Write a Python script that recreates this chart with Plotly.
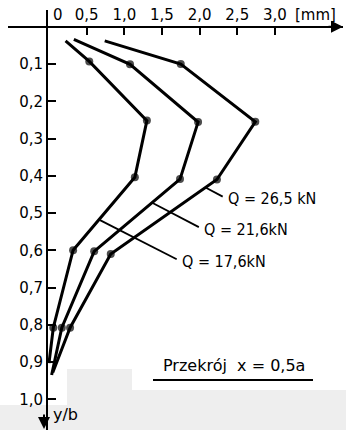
import plotly.graph_objects as go

# ---- data ----
loads = ["Q = 17,6kN", "Q = 21,6kN", "Q = 26,5 kN"]
y_b = {
    "17.6": [0.038, 0.093, 0.252, 0.404, 0.600, 0.808, 0.903],
    "21.6": [0.034, 0.101, 0.256, 0.409, 0.603, 0.808, 0.935],
    "26.5": [0.038, 0.100, 0.255, 0.410, 0.610, 0.808, 0.928],
}
defl = {
    "17.6": [0.22, 0.535, 1.30, 1.14, 0.32, 0.057, 0.0],
    "21.6": [0.33, 1.076, 1.98, 1.74, 0.60, 0.17, 0.035],
    "26.5": [0.74, 1.75, 2.74, 2.23, 0.82, 0.28, 0.05],
}
# leader lines (from curve to label) and label anchor points
leader_x = {"17.6": [0.677, 1.696], "21.6": [1.364, 1.99], "26.5": [2.085, 2.307]}
leader_y = {"17.6": [0.519, 0.624], "21.6": [0.472, 0.538], "26.5": [0.432, 0.456]}
label_pos = {"17.6": (1.74, 0.631), "21.6": (2.03, 0.544), "26.5": (2.35, 0.46)}

x_ticks = [0.5, 1.0, 1.5, 2.0, 2.5, 3.0]
x_ticktext = ["0,5", "1,0", "1,5", "2,0", "2,5", "3,0"]
y_ticks = [0.1, 0.2, 0.3, 0.4, 0.5, 0.6, 0.7, 0.8, 0.9, 1.0]
y_ticktext = ["0,1", "0,2", "0,3", "0,4", "0,5", "0,6", "0,7", "0,8", "0,9", "1,0"]

# ---- layout geometry ----
W, H = 346, 430
X0PX, XS = 49.0, 75.3      # pixel of x=0, px per mm
Y0PX, YS = 26.75, 372.5    # pixel of y=0, px per unit y/b


def dx(px):
    return (px - X0PX) / XS


def dy(py):
    return (py - Y0PX) / YS


fig = go.Figure()

keys = ["17.6", "21.6", "26.5"]
for k in keys:
    n = len(defl[k])
    sizes = [0] + [8] * (n - 2) + [0]
    fig.add_trace(go.Scatter(
        x=defl[k], y=y_b[k], mode="lines+markers",
        line=dict(color="black", width=3),
        marker=dict(color="black", size=sizes, line=dict(width=0)),
        showlegend=False, hoverinfo="skip",
    ))
    fig.add_trace(go.Scatter(
        x=leader_x[k], y=leader_y[k], mode="lines",
        line=dict(color="black", width=1.8),
        showlegend=False, hoverinfo="skip",
    ))

annotations = []
for k, txt in zip(keys, loads):
    lx, ly = label_pos[k]
    annotations.append(dict(x=lx, y=ly, xref="x", yref="y", text=txt, showarrow=False,
                            xanchor="left", yanchor="middle",
                            font=dict(family="DejaVu Sans Condensed", size=16, color="black")))

# axis labels / extra texts
annotations += [
    dict(x=dx(58), y=dy(15), xref="x", yref="y", text="0", showarrow=False,
         xanchor="center", yanchor="middle", font=dict(family="DejaVu Sans", size=15, color="black")),
    dict(x=dx(315), y=dy(15), xref="x", yref="y", text="[mm]", showarrow=False,
         xanchor="center", yanchor="middle", font=dict(family="DejaVu Sans", size=15, color="black")),
    dict(x=dx(51), y=dy(414), xref="x", yref="y", text="y/b", showarrow=False,
         xanchor="left", yanchor="middle", font=dict(family="DejaVu Sans", size=16, color="black")),
    dict(x=dx(161), y=dy(365), xref="x", yref="y", text="Przekrój  x = 0,5a", showarrow=False,
         xanchor="left", yanchor="middle", font=dict(family="DejaVu Sans", size=16, color="black")),
    # axis arrows
    dict(x=dx(343), y=0, xref="x", yref="y", text="", showarrow=True, ax=-16, ay=0,
         arrowhead=2, arrowsize=1.2, arrowwidth=2, arrowcolor="black"),
    dict(x=dx(44), y=dy(429), xref="x", yref="y", text="", showarrow=True, ax=0, ay=-16,
         arrowhead=2, arrowsize=1.2, arrowwidth=2, arrowcolor="black"),
]

shapes = [
    # scanned-paper grey patches at the bottom
    dict(type="rect", xref="paper", yref="paper", x0=0, x1=67 / W, y0=0, y1=1 - 405 / H,
         fillcolor="#eeeeee", line=dict(width=0), layer="below"),
    dict(type="rect", xref="paper", yref="paper", x0=67 / W, x1=132 / W, y0=0, y1=1 - 369 / H,
         fillcolor="#eeeeee", line=dict(width=0), layer="below"),
    dict(type="rect", xref="paper", yref="paper", x0=132 / W, x1=1, y0=0, y1=1 - 390 / H,
         fillcolor="#eeeeee", line=dict(width=0), layer="below"),
    # underline of the section caption
    dict(type="line", xref="x", yref="y", x0=dx(153), x1=dx(313), y0=dy(380), y1=dy(380),
         line=dict(color="black", width=2)),
]

fig.update_layout(
    width=W, height=H,
    margin=dict(l=0, r=0, t=0, b=0, pad=0),
    paper_bgcolor="white", plot_bgcolor="rgba(0,0,0,0)",
    showlegend=False,
    annotations=annotations,
    shapes=shapes,
    xaxis=dict(
        domain=[8 / W, 343 / W], range=[dx(8), dx(343)],
        anchor="free", position=1 - Y0PX / H, side="top",
        showline=True, linecolor="black", linewidth=2,
        ticks="inside", ticklen=7, tickwidth=1.5, tickcolor="black",
        tickvals=x_ticks, ticktext=x_ticktext,
        tickfont=dict(family="DejaVu Sans", size=15, color="black"),
        showgrid=False, zeroline=False, fixedrange=True,
    ),
    yaxis=dict(
        domain=[0, 1 - 10 / H], range=[dy(430), dy(10)],
        anchor="free", position=47 / W, side="left",
        showline=True, linecolor="black", linewidth=2,
        ticks="inside", ticklen=8, tickwidth=1.5, tickcolor="black",
        tickvals=y_ticks, ticktext=y_ticktext,
        tickfont=dict(family="DejaVu Sans", size=15, color="black"),
        showgrid=False, zeroline=False, fixedrange=True,
    ),
)

fig.write_html("out.html", config={"displayModeBar": False})
